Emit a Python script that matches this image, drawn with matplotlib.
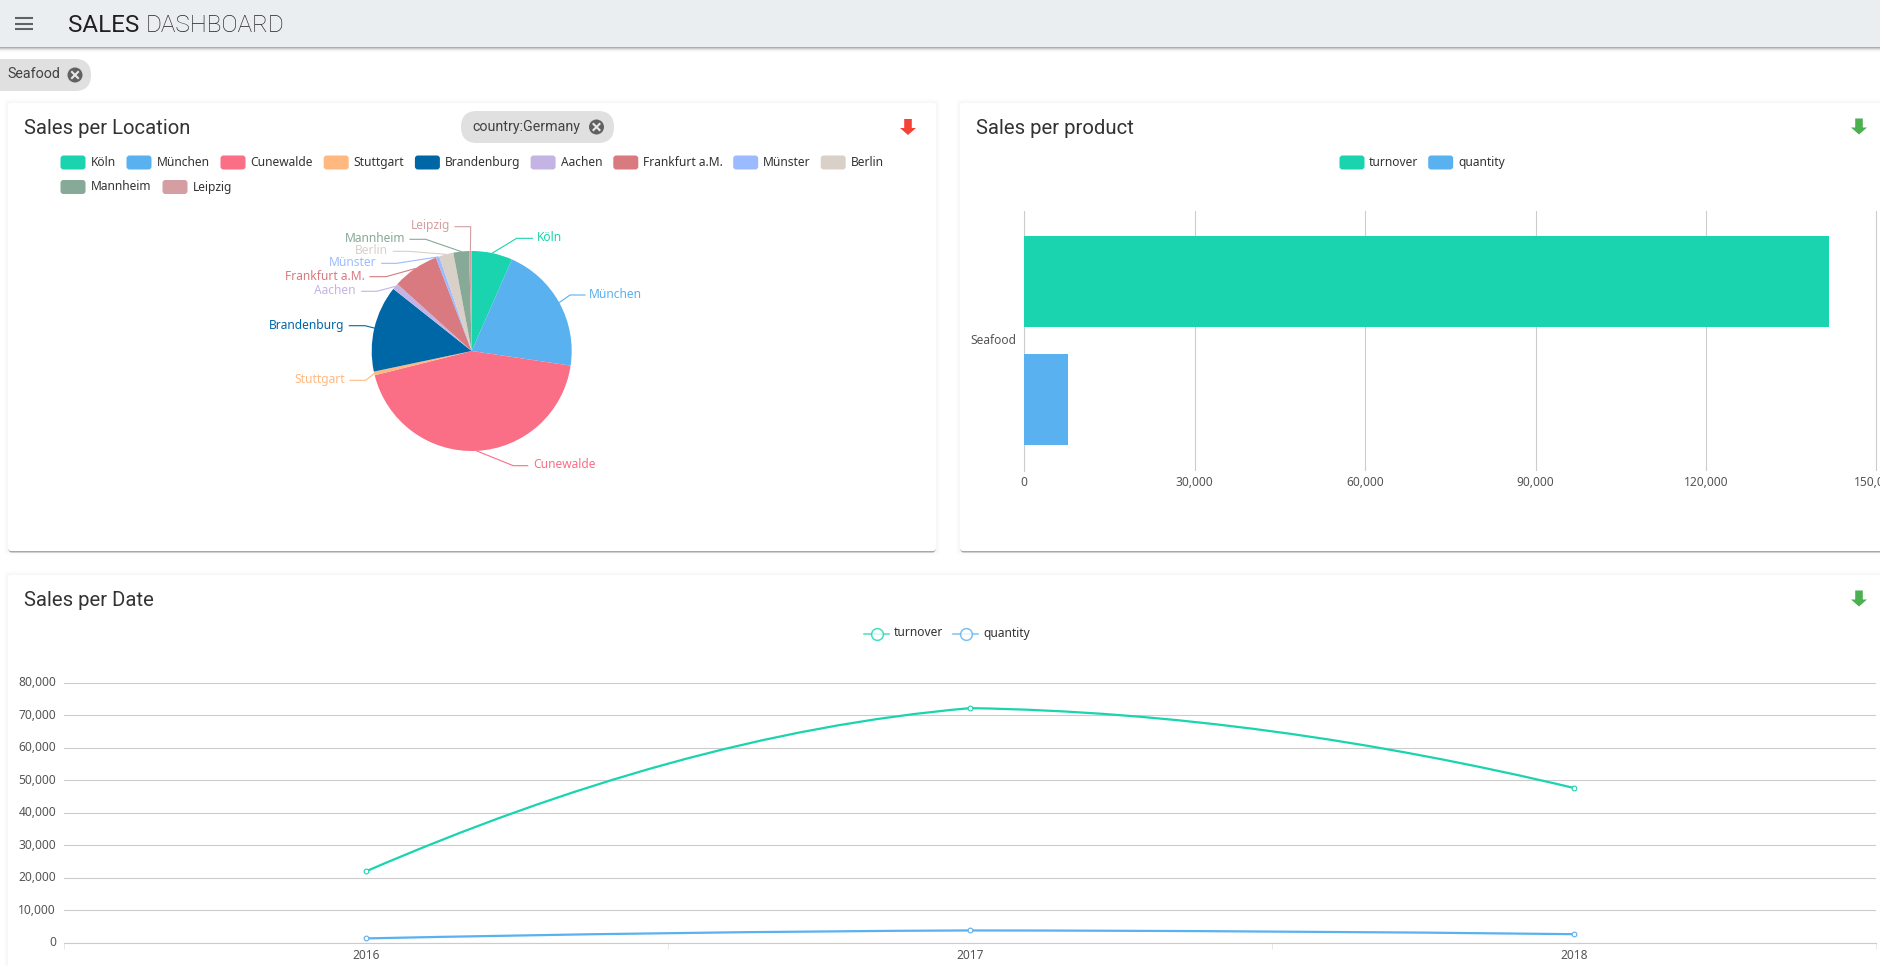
import numpy as np
import matplotlib
matplotlib.use("Agg")
import matplotlib.pyplot as plt
from matplotlib.patches import FancyBboxPatch, Rectangle, Circle, Polygon, PathPatch
from matplotlib.path import Path
from matplotlib.ticker import FuncFormatter
from matplotlib.transforms import ScaledTranslation

# Sales data for the Seafood selection
locations = ["Köln", "München", "Cunewalde", "Stuttgart", "Brandenburg", "Aachen",
             "Frankfurt a.M.", "Münster", "Berlin", "Mannheim", "Leipzig"]
location_sales = [9320, 29360, 61920, 850, 19770, 1415, 10610, 786, 3300, 3577, 590]
location_colors = ["#19d4ae", "#5ab1ef", "#fa6e86", "#ffb980", "#0067a6", "#c4b4e4",
                   "#d87a80", "#9cbbff", "#d9d0c7", "#87a997", "#d49ea2"]
product = ["Seafood"]
product_turnover = [141600]
product_quantity = [7740]
years = ["2016", "2017", "2018"]
turnover_by_year = [22000, 72200, 47600]
quantity_by_year = [1350, 3800, 2650]

W, H = 1881, 966
TEAL, BLUE = "#19d4ae", "#5ab1ef"
GRID = "#cccccc"
TEXT = "#333333"
LABEL = "#555555"
PX = 0.72  # points per pixel at 100 dpi

fig = plt.figure(figsize=(W / 100, H / 100), dpi=100, facecolor="white")
ui = fig.add_axes([0, 0, 1, 1], zorder=0)
ui.set_xlim(0, W)
ui.set_ylim(H, 0)
ui.axis("off")


def px_axes(left, top, right, bottom):
    ax = fig.add_axes([left / W, 1 - bottom / H, (right - left) / W, (bottom - top) / H], zorder=2)
    ax.patch.set_visible(False)
    return ax


def nudge_up(labels, pixels):
    shift = ScaledTranslation(0, pixels * PX / 72, fig.dpi_scale_trans)
    for lab in labels:
        lab.set_transform(lab.get_transform() + shift)


def card(x0, y0, x1, y1):
    # soft outer glow plus the darker lower edge of a raised panel
    for grow, alpha in [(4, 0.006), (3, 0.007), (2, 0.009), (1, 0.012)]:
        ui.add_patch(FancyBboxPatch((x0 - grow, y0 - grow), x1 - x0 + 2 * grow, y1 - y0 + 2 * grow,
                                    boxstyle="round,pad=0,rounding_size=4", fc="black", ec="none", alpha=alpha))
    ui.add_patch(FancyBboxPatch((x0 + 0.5, y0 + 1.5), x1 - x0 - 1, y1 - y0, boxstyle="round,pad=0,rounding_size=3",
                                fc="#a8a8a8", ec="none"))
    ui.add_patch(FancyBboxPatch((x0, y0), x1 - x0, y1 - y0, boxstyle="round,pad=0,rounding_size=3",
                                fc="white", ec="none"))


def chip(x0, x1, cy, label, text_x, close_x):
    ui.add_patch(FancyBboxPatch((x0, cy - 16), x1 - x0, 32, boxstyle="round,pad=0,rounding_size=16",
                                fc="#e0e0e0", ec="none"))
    ui.text(text_x, cy - 0.5, label, fontsize=14.2 * PX, color="#424242", family="Roboto", va="center", ha="left")
    ui.add_patch(Circle((close_x, cy), 7.5, fc="#616161", ec="none"))
    d = 3
    ui.plot([close_x - d, close_x + d], [cy - d, cy + d], color="#e8e8e8", lw=1.5)
    ui.plot([close_x - d, close_x + d], [cy + d, cy - d], color="#e8e8e8", lw=1.5)


def down_arrow(cx, top, color):
    pts = [(cx - 3.8, top), (cx + 3.8, top), (cx + 3.8, top + 9), (cx + 8, top + 9),
           (cx, top + 16), (cx - 8, top + 9), (cx - 3.8, top + 9)]
    ui.add_patch(Polygon(pts, closed=True, fc=color, ec="none"))


def swatch(x, y, color):
    ui.add_patch(FancyBboxPatch((x, y - 7), 25, 14, boxstyle="round,pad=0,rounding_size=3", fc=color, ec="none"))


def legend_text(x, y, label):
    ui.text(x, y, label, fontsize=12 * PX, color=TEXT, family="Noto Sans", va="center", ha="left")


# Top bar
ui.add_patch(Rectangle((0, 0), W, 47, fc="#eaeef1", ec="none"))
for i, a in enumerate([0.32, 0.2, 0.11, 0.05, 0.02]):
    ui.add_patch(Rectangle((0, 47 + i), W, 1, fc="black", ec="none", alpha=a))
for y in (18, 23.5, 29):
    ui.plot([15, 33], [y, y], color="#5f6368", lw=1.5, solid_capstyle="butt")
title = ui.text(68, 25.5, "SALES", fontsize=24.2 * PX, color="#212121", family="Roboto", va="center", ha="left")
fig.canvas.draw()
ext = title.get_window_extent()
ui.text(ext.x1 + 6, 25.5, "DASHBOARD", fontsize=24.2 * PX, color="#222222", family="Roboto", weight="light",
        va="center", ha="left")
chip(-16, 91, 75, "Seafood", 7.5, 75)

# Panels
card(8, 103, 936, 551)
card(960, 103, W + 20, 551)
card(8, 575, W + 20, H + 20)


def panel_title(x, y, label):
    ui.text(x, y, label, fontsize=20.3 * PX, color=TEXT, family="Roboto", va="center", ha="left")


panel_title(24, 128.5, "Sales per Location")
panel_title(976, 128.5, "Sales per product")
panel_title(24, 600.5, "Sales per Date")
chip(461, 614, 127, "country:Germany", 472.8, 596.5)
down_arrow(908, 119, "#f44336")
down_arrow(1859, 118.5, "#4caf50")
down_arrow(1859, 590.5, "#4caf50")

# Location legend
legend_row = [(60.5, 162.5), (126.5, 162.5), (220.5, 162.5), (323.7, 162.5), (414.9, 162.5), (530.6, 162.5),
              (613.3, 162.5), (733.2, 162.5), (820.7, 162.5), (60.5, 187), (162.5, 187)]
for (x, y), name, col in zip(legend_row, locations, location_colors):
    swatch(x, y, col)
    legend_text(x + 30, y, name)

# Pie with elbowed leader lines
CX, CY, R = 471.7, 351, 100
pie_ax = px_axes(CX - R, CY - R, CX + R, CY + R)
wedges, _ = pie_ax.pie(location_sales, colors=location_colors, startangle=90, counterclock=False, radius=1,
                       wedgeprops={"linewidth": 0})
pie_ax.set_xlim(-1, 1)
pie_ax.set_ylim(-1, 1)

label_layout = [
    ((516.7, 238.3), (532.5, 238.3), 536.5, "left"),
    ((570.0, 295.0), (585.0, 295.0), 589.0, "left"),
    ((513.3, 465.7), (527.7, 465.7), 532.8, "left"),
    ((365.7, 380.3), (350.0, 380.3), 345.0, "right"),
    ((365.0, 325.7), (349.3, 325.7), 344.0, "right"),
    ((376.7, 291.3), (361.7, 291.3), 356.0, "right"),
    ((386.0, 276.7), (370.0, 276.7), 365.3, "right"),
    ((396.7, 263.3), (381.7, 263.3), 376.0, "right"),
    ((408.3, 251.3), (393.3, 251.3), 388.3, "right"),
    ((425.7, 239.3), (410.0, 239.3), 405.3, "right"),
    ((470.7, 226.7), (455.0, 226.7), 450.0, "right"),
]
cum = np.cumsum(location_sales)
total = cum[-1]
mids = (cum - np.array(location_sales) / 2) / total * 2 * np.pi
for mid, (elbow, end, tx, ha), name, col in zip(mids, label_layout, locations, location_colors):
    sx, sy = CX + R * np.sin(mid), CY - R * np.cos(mid)
    ui.plot([sx, elbow[0], end[0]], [sy, elbow[1], end[1]], color=col, lw=0.8, solid_joinstyle="round")
    ui.text(tx, end[1] - 0.7, name, color=col, fontsize=12 * PX, family="Noto Sans", ha=ha, va="center")

# Product bars
swatch(1339.5, 162.5, TEAL)
swatch(1428.2, 162.5, BLUE)
legend_text(1369, 162.5, "turnover")
legend_text(1458.5, 162.5, "quantity")
bar_ax = px_axes(1024, 210.5, W, 470.5)
cat_y = np.arange(len(product))
bar_ax.barh(cat_y + 0.227, product_turnover, height=0.35, color=TEAL, zorder=3)
bar_ax.barh(cat_y - 0.227, product_quantity, height=0.35, color=BLUE, zorder=3)
bar_ax.set_ylim(-0.5, 0.5)
bar_ax.set_xlim(0, (W - 1024) / 170.5 * 30000)
bar_ax.set_xticks([0, 30000, 60000, 90000, 120000, 150000])
bar_ax.xaxis.set_major_formatter(FuncFormatter(lambda v, _: f"{int(v):,}"))
bar_ax.set_yticks(cat_y, product)
bar_ax.grid(axis="x", color=GRID, lw=0.8, zorder=0)
bar_ax.tick_params(axis="both", length=0, labelsize=12 * PX, labelcolor=LABEL)
bar_ax.tick_params(axis="x", pad=5 * PX)
bar_ax.tick_params(axis="y", pad=8 * PX)
for lab in bar_ax.get_xticklabels() + bar_ax.get_yticklabels():
    lab.set_family("Noto Sans")
    lab.set_clip_on(False)
nudge_up(bar_ax.get_yticklabels(), 1.5)
for side, spine in bar_ax.spines.items():
    spine.set_visible(side == "left")
    spine.set_color(GRID)
    spine.set_linewidth(0.8)

# Yearly lines
line_ax = px_axes(64, 682.8, 1876.5, 942.8)
xs = np.arange(len(years), dtype=float)

# Tangent slopes as multiples of each segment's chord
LEAVE_FIRST, ARRIVE_LAST = 1.6, 1.8
ARRIVE_INNER, LEAVE_INNER = 0.32, 0.12


def smooth_path(x, y):
    # one cubic segment per interval, eased towards the interior turning point
    verts = [(x[0], y[0])]
    codes = [Path.MOVETO]
    last = len(x) - 2
    for i in range(len(x) - 1):
        step = x[i + 1] - x[i]
        chord = y[i + 1] - y[i]
        m0 = chord * (LEAVE_FIRST if i == 0 else LEAVE_INNER)
        m1 = chord * (ARRIVE_LAST if i == last else ARRIVE_INNER)
        verts += [(x[i] + step / 3, y[i] + m0 / 3),
                  (x[i + 1] - step / 3, y[i + 1] - m1 / 3),
                  (x[i + 1], y[i + 1])]
        codes += [Path.CURVE4] * 3
    return Path(verts, codes)


for values, col in [(turnover_by_year, TEAL), (quantity_by_year, BLUE)]:
    line_ax.add_patch(PathPatch(smooth_path(xs, values), fc="none", ec=col, lw=1.6, zorder=3))
    line_ax.plot(xs, values, ls="none", marker="o", ms=3.4, mfc="white", mec=col, mew=0.8, zorder=4)
line_ax.set_xlim(-0.5, 2.5)
line_ax.set_ylim(0, 80000)
line_ax.set_yticks(np.arange(0, 80001, 10000))
line_ax.yaxis.set_major_formatter(FuncFormatter(lambda v, _: f"{int(v):,}"))
line_ax.set_xticks(xs, years)
line_ax.set_xticks(np.arange(-0.5, 3, 1), minor=True)
line_ax.grid(axis="y", color=GRID, lw=0.8, zorder=0)
line_ax.tick_params(axis="y", length=0, pad=8 * PX, labelsize=12 * PX, labelcolor=LABEL)
line_ax.tick_params(axis="x", which="major", length=0, pad=6 * PX, labelsize=12 * PX, labelcolor=LABEL)
line_ax.tick_params(axis="x", which="minor", length=4, width=0.6, color="#e4e4e4")
for lab in line_ax.get_xticklabels() + line_ax.get_yticklabels():
    lab.set_family("Noto Sans")
nudge_up(line_ax.get_yticklabels(), 1.5)
for side, spine in line_ax.spines.items():
    spine.set_visible(side == "bottom")
    spine.set_color(GRID)
    spine.set_linewidth(0.8)


def line_key(x0, cx, text_x, label, col):
    ui.plot([x0, x0 + 25], [634, 634], color=col, lw=1.2, alpha=0.7)
    ui.plot([cx], [634], marker="o", ms=8.5, mfc="white", mec=col, mew=1.1, ls="none", alpha=0.8)
    legend_text(text_x, 633, label)


line_key(864, 876.7, 893.5, "turnover", TEAL)
line_key(953.3, 966, 983.2, "quantity", BLUE)

fig.savefig("out.png", dpi=100)
